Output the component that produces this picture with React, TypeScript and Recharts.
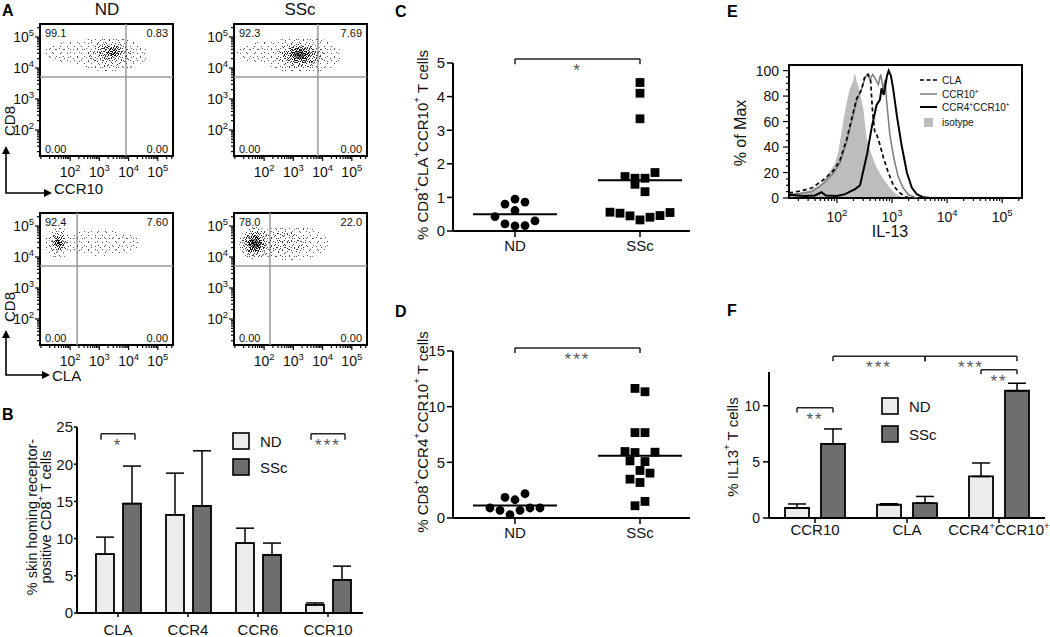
import React from "react";
import {
  ComposedChart,
  ScatterChart,
  Scatter,
  Bar,
  ErrorBar,
  Line,
  Area,
  XAxis,
  YAxis,
  ReferenceLine,
  ReferenceArea,
} from "recharts";

const FONT = "'Liberation Sans', Arial, Helvetica, sans-serif";
const ND_FILL = "#ececec";
const SSC_FILL = "#6e6e6e";
const GATE = "#9a9a9a";
const AXIS = { stroke: "#000", strokeWidth: 2 };
const TICKLINE = { stroke: "#000", strokeWidth: 1.5 };

// ---------- A: flow plots (axes in log10 decades) ----------
const FLOW_X: [number, number] = [0.97, 5.52];
const FLOW_Y: [number, number] = [1.16, 5.42];
const FLOW_MAJOR = [2, 3, 4, 5];

type Blob = { x: number; y: number; rx: number; ry: number; lvl: number };

// density patches (centre, spread, density level)
const ND_CCR10_BLOBS: Blob[] = [
  { x: 2.1, y: 4.5, rx: 1.0, ry: 0.35, lvl: 1 },
  { x: 3.3, y: 4.45, rx: 1.35, ry: 0.55, lvl: 1 },
  { x: 3.35, y: 4.45, rx: 0.75, ry: 0.4, lvl: 2 },
  { x: 3.4, y: 4.5, rx: 0.42, ry: 0.26, lvl: 3 },
  { x: 3.45, y: 4.5, rx: 0.18, ry: 0.13, lvl: 4 },
];
const SSC_CCR10_BLOBS: Blob[] = [
  { x: 2.0, y: 4.5, rx: 0.95, ry: 0.35, lvl: 1 },
  { x: 3.3, y: 4.42, rx: 1.35, ry: 0.6, lvl: 1 },
  { x: 3.25, y: 4.4, rx: 0.85, ry: 0.42, lvl: 2 },
  { x: 3.25, y: 4.4, rx: 0.58, ry: 0.32, lvl: 3 },
  { x: 3.22, y: 4.42, rx: 0.36, ry: 0.22, lvl: 4 },
  { x: 3.2, y: 4.42, rx: 0.2, ry: 0.13, lvl: 5 },
];
const ND_CLA_BLOBS: Blob[] = [
  { x: 3.0, y: 4.45, rx: 1.4, ry: 0.42, lvl: 1 },
  { x: 1.6, y: 4.45, rx: 0.45, ry: 0.5, lvl: 1 },
  { x: 1.6, y: 4.45, rx: 0.32, ry: 0.38, lvl: 2 },
  { x: 1.6, y: 4.47, rx: 0.22, ry: 0.27, lvl: 3 },
  { x: 1.6, y: 4.48, rx: 0.12, ry: 0.15, lvl: 4 },
];
const SSC_CLA_BLOBS: Blob[] = [
  { x: 2.9, y: 4.45, rx: 1.3, ry: 0.55, lvl: 1 },
  { x: 2.7, y: 4.45, rx: 0.75, ry: 0.35, lvl: 2 },
  { x: 1.7, y: 4.45, rx: 0.55, ry: 0.52, lvl: 2 },
  { x: 1.68, y: 4.45, rx: 0.38, ry: 0.38, lvl: 3 },
  { x: 1.68, y: 4.45, rx: 0.24, ry: 0.26, lvl: 4 },
  { x: 1.68, y: 4.45, rx: 0.13, ry: 0.14, lvl: 5 },
];

// quadrant percentages: UL, UR, LL, LR
const ND_CCR10_QUAD = ["99.1", "0.83", "0.00", "0.00"];
const SSC_CCR10_QUAD = ["92.3", "7.69", "0.00", "0.00"];
const ND_CLA_QUAD = ["92.4", "7.60", "0.00", "0.00"];
const SSC_CLA_QUAD = ["78.0", "22.0", "0.00", "0.00"];

// gate positions [x, y] in decades
const ND_CCR10_GATE = [3.91, 3.71];
const SSC_CCR10_GATE = [3.84, 3.71];
const ND_CLA_GATE = [2.24, 3.71];
const SSC_CLA_GATE = [2.2, 3.71];

// ---------- B ----------
const B_CATS = ["CLA", "CCR4", "CCR6", "CCR10"];
const B_ND = [7.9, 13.2, 9.4, 1.1];
const B_ND_ERR = [10.2, 18.8, 11.4, 1.35];
const B_SSC = [14.7, 14.4, 7.8, 4.45];
const B_SSC_ERR = [19.75, 21.8, 9.4, 6.3];
const B_TICKS = [0, 5, 10, 15, 20, 25];
const B_SIG = [
  { g1: 0, s1: -1, g2: 0, s2: 1, y: 24.1, drop: 0.8, text: "*" },
  { g1: 3, s1: -1, g2: 3, s2: 1, y: 24.1, drop: 0.8, text: "***" },
];

// ---------- C / D ----------
const DOT_GROUPS = ["ND", "SSc"];
const C_ND = [0.43, 0.8, 0.95, 0.86, 0.61, 0.3, 0.21, 0.15, 0.16];
const C_ND_COL = [-4, -2, 0, 2, 0, 4, -2, 0, 2];
const C_SSC = [4.42, 4.1, 3.34, 1.62, 1.57, 1.57, 1.74, 1.39, 1.17, 0.56, 0.53, 0.45, 0.33, 0.41, 0.46, 0.55];
const C_SSC_COL = [0, 0, 0, -3, -1, 1, 3, -1, 1, -6, -4, -2, 0, 2, 4, 6];
const C_TICKS = [0, 1, 2, 3, 4, 5];

const D_ND = [0.9, 0.69, 1.85, 0.3, 1.64, 0.69, 2.18, 0.9, 0.9];
const D_ND_COL = [-5, -3, -2, -1, 0, 1, 2, 3, 5];
const D_SSC = [11.64, 11.34, 7.67, 7.67, 5.97, 5.88, 5.91, 5.13, 5.07, 4.27, 4.03, 3.49, 3.19, 1.1, 1.49];
const D_SSC_COL = [-1, 1, -1, 1, -3, -1, 3, -2, 1, 0, 2, -2, 0, -1, 1];
const D_TICKS = [0, 5, 10, 15];

// ---------- E: histograms (x in decades, y in % of max) ----------
const E_X: [number, number] = [1.13, 5.36];
const E_Y: [number, number] = [0, 104.4];
const E_Y_MAJOR = [0, 20, 40, 60, 80, 100];
const E_ISO_D = [1.13, 1.3, 1.5, 1.65, 1.75, 1.87, 1.95, 2.02, 2.085, 2.13, 2.176, 2.236, 2.28, 2.327, 2.36, 2.388, 2.42, 2.479, 2.539, 2.63, 2.721, 2.842, 2.964, 3.085, 3.206, 3.3];
const E_ISO_V = [3, 4, 6, 9, 13, 21, 26, 35, 52, 64, 75, 86, 90, 98, 91, 88, 82, 70, 47, 34, 24, 15, 7.8, 2.6, 0.5, 0];
const E_CLA_D = [1.13, 1.33, 1.55, 1.745, 1.927, 2.05, 2.176, 2.267, 2.358, 2.448, 2.509, 2.57, 2.61, 2.648, 2.69, 2.721, 2.78, 2.842, 2.933, 3.024, 3.115, 3.236, 3.35];
const E_CLA_V = [4, 5.4, 8, 14, 21, 29, 46, 62, 78, 85, 96, 97, 93, 67, 51, 50, 42, 32, 20, 10, 5, 1, 0];
const E_CCR10_D = [1.13, 1.33, 1.55, 1.745, 1.927, 2.05, 2.176, 2.267, 2.358, 2.448, 2.509, 2.55, 2.6, 2.65, 2.691, 2.751, 2.794, 2.842, 2.873, 2.903, 2.96, 3.03, 3.11, 3.2, 3.3, 3.45];
const E_CCR10_V = [3, 3.5, 5, 11, 19, 27, 44, 60, 76, 86, 94, 97, 93, 97, 94, 89, 97, 85, 93, 76, 50, 32, 17, 8, 2.5, 0];
const E_CCR4_D = [1.13, 1.4, 1.6, 1.72, 1.8, 2.0, 2.15, 2.236, 2.33, 2.42, 2.55, 2.63, 2.72, 2.78, 2.81, 2.85, 2.91, 2.94, 2.98, 3.02, 3.09, 3.18, 3.27, 3.36, 3.45, 3.57, 3.7];
const E_CCR4_V = [2.6, 1.5, 2, 4.5, 2, 1.5, 3, 5, 7, 10, 35, 55, 73, 77, 86, 81, 96, 100, 96, 86, 64, 40, 20, 8, 3, 0.5, 0];

// ---------- F ----------
const F_CATS = ["CCR10", "CLA", "CCR4⁺CCR10⁺"];
const F_ND = [0.89, 1.18, 3.7];
const F_ND_ERR = [1.25, 1.27, 4.9];
const F_SSC = [6.6, 1.33, 11.33];
const F_SSC_ERR = [7.93, 1.92, 12.0];
const F_TICKS = [0, 5, 10];
const F_SIG = [
  { g1: 0, s1: -1, g2: 0, s2: 1, y: 9.82, drop: 0.42, text: "**" },
  { g1: 0, s1: 1, g2: 1, s2: 1, y: 14.4, drop: 0.45, text: "***" },
  { g1: 1, s1: 1, g2: 2, s2: 1, y: 14.4, drop: 0.45, text: "***" },
  { g1: 2, s1: -1, g2: 2, s2: 1, y: 13.2, drop: 0.4, text: "**" },
];

// ---------- helpers ----------
const mean = (a: number[]) => a.reduce((s, v) => s + v, 0) / a.length;

function logTicks(lo: number, hi: number) {
  const out: number[] = [];
  for (let n = 0; n <= 6; n++)
    for (let k = 1; k <= 9; k++) {
      const v = +(n + Math.log10(k)).toFixed(4);
      if (v >= lo && v <= hi) out.push(v);
    }
  return out;
}
const FLOW_TICKS_X = logTicks(FLOW_X[0], FLOW_X[1]);
const FLOW_TICKS_Y = logTicks(FLOW_Y[0], FLOW_Y[1]);
const E_TICKS_X = logTicks(E_X[0], E_X[1]);
const E_TICKS_Y: number[] = [];
for (let v = 0; v <= 100; v += 5) E_TICKS_Y.push(v);

// text with raised "+" for every ⁺
function Rich({ s, size }: { s: string; size: number }) {
  const parts = s.split("⁺");
  const shift = Math.round(size * 0.38);
  const out: React.ReactNode[] = [];
  let up = false;
  parts.forEach((p, i) => {
    if (p) {
      out.push(<tspan key={"p" + i} dy={up ? shift : 0}>{p}</tspan>);
      up = false;
    }
    if (i < parts.length - 1) {
      out.push(<tspan key={"s" + i} dy={up ? 0 : -shift} fontSize={size * 0.65}>+</tspan>);
      up = true;
    }
  });
  return <>{out}</>;
}

function pow10(x: number, y: number, exp: number, anchor: "middle" | "end", size: number) {
  return (
    <text x={x} y={y} textAnchor={anchor} fontSize={size} fill="#111">
      <tspan>10</tspan>
      <tspan dy={-size * 0.42} fontSize={size * 0.68}>{exp}</tspan>
    </text>
  );
}

// stipple textures for the dot clouds: two tiles of different size so the dots do not line up
const STIPPLE_A = [
  [1, 1], [6, 2], [3, 5], [8, 6], [5, 8], [4, 0], [0, 4], [7, 4], [2, 8], [6, 6], [3, 2], [8, 1],
  [2, 3], [5, 5], [0, 7], [7, 2], [4, 6], [1, 6], [6, 0], [3, 8], [8, 4], [5, 1], [0, 2], [7, 8],
  [2, 0], [4, 3],
];
const STIPPLE_B = [
  [3, 1], [0, 5], [5, 4], [2, 3], [6, 0], [1, 0], [4, 6], [6, 3], [2, 6], [5, 1], [0, 2], [3, 4],
  [1, 5], [4, 2], [6, 6], [2, 0], [5, 5],
];
const STIPPLE_LEVELS = [
  { a: 3, b: 2, c: "#555" },
  { a: 7, b: 4, c: "#444" },
  { a: 14, b: 9, c: "#2a2a2a" },
  { a: 26, b: 17, c: "#111" },
];

// ---------- A ----------
const FLOW_W = 133;
const FLOW_H = 132;
const FLOW_YW = 36;
const FLOW_MT = 4;
const PX_X = FLOW_W / (FLOW_X[1] - FLOW_X[0]);
const PX_Y = FLOW_H / (FLOW_Y[1] - FLOW_Y[0]);

function blobShape(p: any) {
  const b = p.payload as Blob;
  const rx = b.rx * PX_X;
  const ry = b.ry * PX_Y;
  if (b.lvl >= 5) return <ellipse cx={p.cx} cy={p.cy} rx={rx} ry={ry} fill="#111" opacity={0.5} />;
  return (
    <g>
      <ellipse cx={p.cx} cy={p.cy} rx={rx} ry={ry} fill={`url(#stipA${b.lvl})`} />
      <ellipse cx={p.cx} cy={p.cy} rx={rx} ry={ry} fill={`url(#stipB${b.lvl})`} />
    </g>
  );
}

function quadShape(p: any) {
  return (
    <text x={p.cx} y={p.cy} textAnchor={p.payload.a} dominantBaseline="central" fontSize={11} fill="#111">
      {p.payload.t}
    </text>
  );
}

function flowXTick(p: any) {
  const v = p.payload.value as number;
  const major = FLOW_MAJOR.includes(v);
  return (
    <g>
      <line x1={p.x} y1={p.y} x2={p.x} y2={p.y + (major ? 5 : 3)} stroke="#000" strokeWidth={1.2} />
      {major && pow10(p.x, p.y + 21, v, "middle", 14)}
    </g>
  );
}

function flowYTick(p: any) {
  const v = p.payload.value as number;
  const major = FLOW_MAJOR.includes(v);
  return (
    <g>
      <line x1={p.x} y1={p.y} x2={p.x - (major ? 5 : 3)} y2={p.y} stroke="#000" strokeWidth={1.2} />
      {major && pow10(p.x - 6, p.y + 5, v, "end", 14)}
    </g>
  );
}

function FlowPlot({ left, top, blobs, quad, gate }: { left: number; top: number; blobs: Blob[]; quad: string[]; gate: number[] }) {
  const [x0, x1] = FLOW_X;
  const [y0, y1] = FLOW_Y;
  const labels = [
    { x: x0 + 0.17, y: y1 - 0.29, t: quad[0], a: "start" },
    { x: x1 - 0.17, y: y1 - 0.29, t: quad[1], a: "end" },
    { x: x0 + 0.17, y: y0 + 0.23, t: quad[2], a: "start" },
    { x: x1 - 0.17, y: y0 + 0.23, t: quad[3], a: "end" },
  ];
  return (
    <div style={{ position: "absolute", left: left - FLOW_YW, top: top - FLOW_MT }}>
      <ScatterChart
        width={FLOW_YW + FLOW_W + 4}
        height={FLOW_MT + FLOW_H + 30}
        margin={{ top: FLOW_MT, right: 4, left: 0, bottom: 0 }}
      >
        <XAxis type="number" dataKey="x" domain={FLOW_X} ticks={FLOW_TICKS_X} interval={0} allowDataOverflow
          axisLine={false} tickLine={false} tickSize={0} tickMargin={0} height={30} tick={flowXTick} />
        <YAxis type="number" dataKey="y" domain={FLOW_Y} ticks={FLOW_TICKS_Y} interval={0} allowDataOverflow
          axisLine={false} tickLine={false} tickSize={0} tickMargin={0} width={FLOW_YW} tick={flowYTick} />
        <Scatter data={blobs} shape={blobShape} isAnimationActive={false} />
        <ReferenceLine x={gate[0]} stroke={GATE} strokeWidth={1.5} />
        <ReferenceLine y={gate[1]} stroke={GATE} strokeWidth={1.5} />
        <Scatter data={labels} shape={quadShape} isAnimationActive={false} />
        <ReferenceArea x1={x0} x2={x1} y1={y0} y2={y1} fill="none" fillOpacity={0} stroke="#000" strokeWidth={2} ifOverflow="visible" />
      </ScatterChart>
    </div>
  );
}

// ---------- brackets ----------
type Sig = { g1: number; s1: number; g2: number; s2: number; y: number; drop: number; text: string };

function brackets(sigs: Sig[], off: number, axisId: string | number, center: number) {
  const common = { xAxisId: axisId, stroke: "#222", strokeWidth: 1.5, ifOverflow: "visible" as const };
  return sigs.flatMap((s, i) => {
    const xa = s.g1 + center + s.s1 * off;
    const xb = s.g2 + center + s.s2 * off;
    return [
      <ReferenceLine key={"h" + i} {...common} segment={[{ x: xa, y: s.y }, { x: xb, y: s.y }]}
        label={{ value: s.text, position: "bottom", offset: 5, fill: "#555", fontSize: 17, letterSpacing: 2 }} />,
      <ReferenceLine key={"l" + i} {...common} segment={[{ x: xa, y: s.y }, { x: xa, y: s.y - s.drop }]} />,
      <ReferenceLine key={"r" + i} {...common} segment={[{ x: xb, y: s.y }, { x: xb, y: s.y - s.drop }]} />,
    ];
  });
}

const catTick = (dy: number, size: number) => (p: any) => (
  <text x={p.x} y={p.y + dy} textAnchor="middle" fontSize={size} fill="#111">
    <Rich s={p.payload.value} size={size} />
  </text>
);

// ---------- B ----------
function PanelB() {
  const data = B_CATS.map((cat, i) => ({
    cat,
    pos: i + 0.5,
    nd: B_ND[i],
    ssc: B_SSC[i],
    ndE: [0, B_ND_ERR[i] - B_ND[i]],
    sscE: [0, B_SSC_ERR[i] - B_SSC[i]],
  }));
  return (
    <div style={{ position: "absolute", left: 0, top: 415 }}>
      <ComposedChart width={370} height={222} data={data} margin={{ top: 12, right: 7, left: 0, bottom: 0 }} barSize={18} barGap={9}>
        <XAxis dataKey="cat" interval={0} height={24} padding={{ left: 6, right: 0 }} axisLine={AXIS} tickLine={TICKLINE}
          tickSize={4} tickMargin={2} tick={catTick(16, 15)} />
        <XAxis xAxisId="num" dataKey="pos" type="number" domain={[0, B_CATS.length]} hide padding={{ left: 6, right: 0 }} allowDataOverflow />
        <YAxis domain={[0, 25]} ticks={B_TICKS} interval={0} width={77} axisLine={AXIS} tickLine={TICKLINE}
          tickSize={3} tickMargin={1} tick={{ fill: "#111", fontSize: 15 }} allowDataOverflow />
        <Bar dataKey="nd" fill={ND_FILL} stroke="#000" strokeWidth={1.8} isAnimationActive={false}>
          <ErrorBar dataKey="ndE" width={9} stroke="#000" strokeWidth={1.5} />
        </Bar>
        <Bar dataKey="ssc" fill={SSC_FILL} stroke="#000" strokeWidth={1.8} isAnimationActive={false}>
          <ErrorBar dataKey="sscE" width={9} stroke="#000" strokeWidth={1.5} />
        </Bar>
        {brackets(B_SIG, 17 / 70, "num", 0.5)}
      </ComposedChart>
    </div>
  );
}

// ---------- C / D ----------
const COL = 0.04;
const circleShape = (p: any) => <circle cx={p.cx} cy={p.cy} r={4.4} fill="#000" />;
const squareShape = (p: any) => <rect x={p.cx - 4.4} y={p.cy - 4.4} width={8.8} height={8.8} fill="#000" />;

function DotPanel(props: {
  top: number; height: number; marginTop: number; yMax: number; ticks: number[];
  nd: number[]; ndCol: number[]; ssc: number[]; sscCol: number[]; sig: Sig;
}) {
  const { top, height, marginTop, yMax, ticks, nd, ndCol, ssc, sscCol, sig } = props;
  const ndPts = nd.map((v, i) => ({ x: 1 + ndCol[i] * COL, y: v }));
  const sscPts = ssc.map((v, i) => ({ x: 2 + sscCol[i] * COL, y: v }));
  const half = 0.336;
  const mNd = mean(nd);
  const mSsc = mean(ssc);
  return (
    <div style={{ position: "absolute", left: 413, top }}>
      <ScatterChart width={290} height={height} margin={{ top: marginTop, right: 13, left: 0, bottom: 0 }}>
        <XAxis type="number" dataKey="x" domain={[0.504, 2.4]} ticks={[1, 2]} interval={0} allowDataOverflow height={30}
          axisLine={AXIS} tickLine={TICKLINE} tickSize={6} tickMargin={3}
          tickFormatter={(v: number) => DOT_GROUPS[v - 1]} tick={{ fill: "#111", fontSize: 15 }} />
        <YAxis type="number" dataKey="y" domain={[0, yMax]} ticks={ticks} interval={0} allowDataOverflow width={40}
          axisLine={AXIS} tickLine={TICKLINE} tickSize={6} tickMargin={2} tick={{ fill: "#111", fontSize: 15 }} />
        <Scatter data={ndPts} shape={circleShape} isAnimationActive={false} />
        <Scatter data={sscPts} shape={squareShape} isAnimationActive={false} />
        <ReferenceLine segment={[{ x: 1 - half, y: mNd }, { x: 1 + half, y: mNd }]} stroke="#000" strokeWidth={2} ifOverflow="visible" />
        <ReferenceLine segment={[{ x: 2 - half, y: mSsc }, { x: 2 + half, y: mSsc }]} stroke="#000" strokeWidth={2} ifOverflow="visible" />
        {brackets([sig], 0, 0, 0)}
      </ScatterChart>
    </div>
  );
}

// ---------- E ----------
function eXTick(p: any) {
  const v = p.payload.value as number;
  const major = FLOW_MAJOR.includes(v);
  return (
    <g>
      <line x1={p.x} y1={p.y} x2={p.x} y2={p.y + (major ? 5 : 3)} stroke="#000" strokeWidth={1.2} />
      {major && pow10(p.x, p.y + 24, v, "middle", 14)}
    </g>
  );
}
function eYTick(p: any) {
  const v = p.payload.value as number;
  const major = E_Y_MAJOR.includes(v);
  return (
    <g>
      <line x1={p.x} y1={p.y} x2={p.x - (major ? 6 : 3)} y2={p.y} stroke="#000" strokeWidth={1.2} />
      {major && (
        <text x={p.x - 10} y={p.y + 5} textAnchor="end" fontSize={14} fill="#111">{v}</text>
      )}
    </g>
  );
}

function PanelE() {
  const iso = E_ISO_D.map((d, i) => ({ d, v: E_ISO_V[i] }));
  const cla = E_CLA_D.map((d, i) => ({ d, v: E_CLA_V[i] }));
  const ccr10 = E_CCR10_D.map((d, i) => ({ d, v: E_CCR10_V[i] }));
  const ccr4 = E_CCR4_D.map((d, i) => ({ d, v: E_CCR4_V[i] }));
  return (
    <div style={{ position: "absolute", left: 750, top: 50 }}>
      <ComposedChart width={290} height={183} margin={{ top: 15, right: 18, left: 0, bottom: 0 }}>
        <XAxis type="number" dataKey="d" domain={E_X} ticks={E_TICKS_X} interval={0} allowDataOverflow height={35}
          axisLine={false} tickLine={false} tickSize={0} tickMargin={0} tick={eXTick} />
        <YAxis type="number" domain={E_Y} ticks={E_TICKS_Y} interval={0} allowDataOverflow width={39}
          axisLine={false} tickLine={false} tickSize={0} tickMargin={0} tick={eYTick} />
        <Area data={iso} dataKey="v" type="linear" fill="#bdbdbd" fillOpacity={1} stroke="none" isAnimationActive={false} />
        <Line data={ccr10} dataKey="v" type="linear" stroke="#7c7c7c" strokeWidth={1.5} dot={false} isAnimationActive={false} />
        <Line data={cla} dataKey="v" type="linear" stroke="#000" strokeWidth={1.7} strokeDasharray="4 3" dot={false} isAnimationActive={false} />
        <Line data={ccr4} dataKey="v" type="linear" stroke="#000" strokeWidth={2} dot={false} isAnimationActive={false} />
        <ReferenceArea x1={E_X[0]} x2={E_X[1]} y1={E_Y[0]} y2={E_Y[1]} fill="none" fillOpacity={0} stroke="#000" strokeWidth={2} ifOverflow="visible" />
      </ComposedChart>
    </div>
  );
}

// ---------- F ----------
function PanelF() {
  const data = F_CATS.map((cat, i) => ({
    cat,
    pos: i + 0.5,
    nd: F_ND[i],
    ssc: F_SSC[i],
    ndE: [0, F_ND_ERR[i] - F_ND[i]],
    sscE: [0, F_SSC_ERR[i] - F_SSC[i]],
  }));
  return (
    <div style={{ position: "absolute", left: 730, top: 336 }}>
      <ComposedChart width={320} height={212} data={data} margin={{ top: 36, right: 5, left: 0, bottom: 0 }} barSize={24} barGap={12}>
        <XAxis dataKey="cat" interval={0} height={30} axisLine={AXIS} tickLine={TICKLINE}
          tickSize={5} tickMargin={2} tick={catTick(10, 15)} />
        <XAxis xAxisId="num" dataKey="pos" type="number" domain={[0, F_CATS.length]} hide allowDataOverflow />
        <YAxis domain={[0, 13]} ticks={F_TICKS} interval={0} width={39} axisLine={AXIS} tickLine={TICKLINE}
          tickSize={6} tickMargin={3} tick={{ fill: "#111", fontSize: 14 }} allowDataOverflow />
        <Bar dataKey="nd" fill={ND_FILL} stroke="#000" strokeWidth={1.8} isAnimationActive={false}>
          <ErrorBar dataKey="ndE" width={9} stroke="#000" strokeWidth={1.5} />
        </Bar>
        <Bar dataKey="ssc" fill={SSC_FILL} stroke="#000" strokeWidth={1.8} isAnimationActive={false}>
          <ErrorBar dataKey="sscE" width={9} stroke="#000" strokeWidth={1.5} />
        </Bar>
        {brackets(F_SIG, 18 / 92, "num", 0.5)}
      </ComposedChart>
    </div>
  );
}

// ---------- titles, arrows, legends ----------
function VText({ x, y, s, size }: { x: number; y: number; s: string; size: number }) {
  return (
    <text x={x} y={y} transform={`rotate(-90 ${x} ${y})`} textAnchor="middle" dominantBaseline="central" fontSize={size} fill="#111">
      <Rich s={s} size={size} />
    </text>
  );
}

function Arrow({ x, yTop, yCorner, xRight, label, labelY }: { x: number; yTop: number; yCorner: number; xRight: number; label: string; labelY: number }) {
  return (
    <g>
      <polyline points={`${x},${yTop + 6} ${x},${yCorner} ${xRight - 6},${yCorner}`} fill="none" stroke="#000" strokeWidth={1.6} />
      <polygon points={`${x},${yTop} ${x - 4},${yTop + 8} ${x + 4},${yTop + 8}`} fill="#000" />
      <polygon points={`${xRight},${yCorner} ${xRight - 8},${yCorner - 4} ${xRight - 8},${yCorner + 4}`} fill="#000" />
      <text x={xRight + 2} y={labelY} fontSize={15} fill="#111">{label}</text>
    </g>
  );
}

function LegendBox({ x, y, fill, label }: { x: number; y: number; fill: string; label: string }) {
  return (
    <g>
      <rect x={x} y={y} width={16} height={16} fill={fill} stroke="#000" strokeWidth={1.6} />
      <text x={x + 27} y={y + 8} dominantBaseline="central" fontSize={15} fill="#111">{label}</text>
    </g>
  );
}

function StipplePattern({ id, tile, dots, n, color }: { id: string; tile: number; dots: number[][]; n: number; color: string }) {
  return (
    <pattern id={id} patternUnits="userSpaceOnUse" width={tile} height={tile}>
      {dots.slice(0, n).map(([px, py], j) => (
        <rect key={j} x={px} y={py} width={1} height={1} fill={color} />
      ))}
    </pattern>
  );
}

function Overlay() {
  const letter = { fontSize: 16, fontWeight: 700, fill: "#000" } as const;
  return (
    <svg width={1050} height={637} style={{ position: "absolute", left: 0, top: 0, pointerEvents: "none" }} fontFamily={FONT}>
      <defs>
        {STIPPLE_LEVELS.map((l, i) => (
          <React.Fragment key={i}>
            <StipplePattern id={`stipA${i + 1}`} tile={9} dots={STIPPLE_A} n={l.a} color={l.c} />
            <StipplePattern id={`stipB${i + 1}`} tile={7} dots={STIPPLE_B} n={l.b} color={l.c} />
          </React.Fragment>
        ))}
      </defs>

      <text x={2} y={16} {...letter}>A</text>
      <text x={2} y={420} {...letter}>B</text>
      <text x={395} y={17} {...letter}>C</text>
      <text x={395} y={317} {...letter}>D</text>
      <text x={727} y={17} {...letter}>E</text>
      <text x={727} y={316} {...letter}>F</text>

      <text x={107} y={15} textAnchor="middle" fontSize={17} fill="#111">ND</text>
      <text x={300} y={15} textAnchor="middle" fontSize={17} fill="#111">SSc</text>

      <Arrow x={6} yTop={146} yCorner={193} xRight={52} label="CCR10" labelY={194} />
      <VText x={8.5} y={121} s="CD8" size={15} />
      <Arrow x={6} yTop={330} yCorner={375} xRight={50} label="CLA" labelY={381} />
      <VText x={8.5} y={307} s="CD8" size={15} />

      <VText x={32} y={517} s="% skin homing receptor-" size={14.5} />
      <VText x={46} y={517} s="positive CD8⁺ T cells" size={14.5} />
      <LegendBox x={233} y={433} fill={ND_FILL} label="ND" />
      <LegendBox x={233} y={459} fill={SSC_FILL} label="SSc" />

      <VText x={422} y={145} s="% CD8⁺CLA⁺CCR10⁺ T cells" size={15} />
      <VText x={422} y={432} s="% CD8⁺CCR4⁺CCR10⁺ T cells" size={15} />

      <VText x={740} y={133} s="% of Max" size={16} />
      <text x={890} y={237} textAnchor="middle" fontSize={16} fill="#111">IL-13</text>
      <g fontSize={10} fill="#111">
        <line x1={920} y1={80} x2={937} y2={80} stroke="#000" strokeWidth={1.6} strokeDasharray="4 2.5" />
        <text x={942} y={83.5}>CLA</text>
        <line x1={920} y1={94} x2={937} y2={94} stroke="#7c7c7c" strokeWidth={1.5} />
        <text x={942} y={97.5}><Rich s="CCR10⁺" size={10} /></text>
        <line x1={920} y1={107} x2={937} y2={107} stroke="#000" strokeWidth={2} />
        <text x={942} y={110.5}><Rich s="CCR4⁺CCR10⁺" size={10} /></text>
        <rect x={924} y={118} width={9} height={9} fill="#bdbdbd" />
        <text x={942} y={125.5}>isotype</text>
      </g>

      <VText x={732} y={447} s="% IL13⁺ T cells" size={15} />
      <LegendBox x={882} y={398} fill={ND_FILL} label="ND" />
      <LegendBox x={882} y={426} fill={SSC_FILL} label="SSc" />
    </svg>
  );
}

export default function App() {
  return (
    <div style={{ position: "absolute", left: 0, top: 0, width: 1050, height: 637, background: "#fff", fontFamily: FONT, overflow: "hidden" }}>
      <FlowPlot left={40} top={24} blobs={ND_CCR10_BLOBS} quad={ND_CCR10_QUAD} gate={ND_CCR10_GATE} />
      <FlowPlot left={234} top={24} blobs={SSC_CCR10_BLOBS} quad={SSC_CCR10_QUAD} gate={SSC_CCR10_GATE} />
      <FlowPlot left={40} top={213} blobs={ND_CLA_BLOBS} quad={ND_CLA_QUAD} gate={ND_CLA_GATE} />
      <FlowPlot left={234} top={213} blobs={SSC_CLA_BLOBS} quad={SSC_CLA_QUAD} gate={SSC_CLA_GATE} />
      <PanelB />
      <DotPanel top={40} height={221} marginTop={23} yMax={5} ticks={C_TICKS}
        nd={C_ND} ndCol={C_ND_COL} ssc={C_SSC} sscCol={C_SSC_COL}
        sig={{ g1: 1, s1: 0, g2: 2, s2: 0, y: 5.12, drop: 0.16, text: "*" }} />
      <DotPanel top={330} height={218} marginTop={21} yMax={15} ticks={D_TICKS}
        nd={D_ND} ndCol={D_ND_COL} ssc={D_SSC} sscCol={D_SSC_COL}
        sig={{ g1: 1, s1: 0, g2: 2, s2: 0, y: 15.27, drop: 0.45, text: "***" }} />
      <PanelE />
      <PanelF />
      <Overlay />
    </div>
  );
}
